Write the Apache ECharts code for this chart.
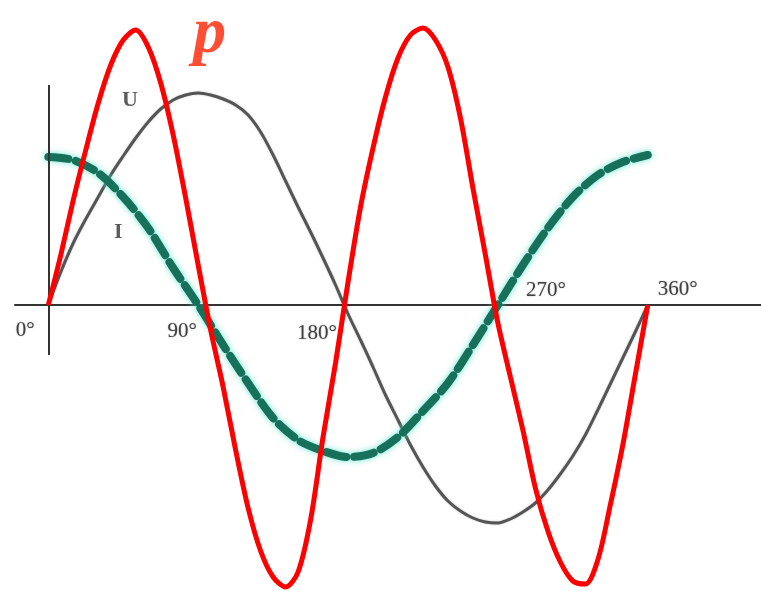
<!DOCTYPE html>
<html>
<head>
<meta charset="utf-8">
<script src="https://cdn.jsdelivr.net/npm/echarts@6/dist/echarts.min.js"></script>
<style>
  html, body { margin: 0; padding: 0; background: #ffffff; }
  #chart { width: 761px; height: 591px; }
</style>
</head>
<body>
<div id="chart"></div>
<script>
// Phase angle samples (degrees) for voltage and power
const angles = [0, 7.5, 15, 22.5, 30, 37.5, 45, 52.5, 60, 67.5, 75, 82.5, 90,
                97.5, 105, 112.5, 120, 127.5, 135, 142.5, 150, 157.5, 165, 172.5, 180,
                187.5, 195, 202.5, 210, 217.5, 225, 232.5, 240, 247.5, 255, 262.5, 270,
                277.5, 285, 292.5, 300, 307.5, 315, 322.5, 330, 337.5, 345, 352.5, 360];
// Voltage U
const voltage = [0, 33, 62, 86, 108, 130, 149, 167, 183, 196, 205, 210, 212,
                 210, 206, 200, 190, 173, 150, 124, 98, 73, 47, 20, -9,
                 -35, -62, -90, -115, -140, -162, -181, -196, -206, -213, -217, -218,
                 -214, -207, -198, -185, -169, -151, -130, -105, -79, -53, -27, 0];
// Instantaneous power p
const power = [0, 50, 105, 155, 202, 240, 265, 275, 258, 222, 170, 107, 40,
               -25, -82, -145, -203, -246, -272, -282, -267, -215, -132, -58, 23,
               98, 157, 208, 247, 270, 277, 265, 238, 187, 117, 50, -18,
               -72, -125, -183, -226, -257, -276, -279, -255, -200, -140, -70, 0];
// Phase angle samples (degrees) for current
const currentAngles = [0, 15, 30, 45, 60, 75, 90, 105, 120, 135, 150, 165, 180,
                       195, 210, 225, 240, 255, 270, 285, 300, 315, 330, 345, 360];
// Current I
const current = [148, 145, 132, 108, 77, 37, 0, -40, -78, -113, -135, -146, -152,
                 -148, -132, -106, -78, -40, 0, 40, 77, 108, 130, 143, 150];
// Axis tick labels
const tickAngles = [0, 90, 180, 270, 360];
const tickLabels = ['0\u00b0', '90\u00b0', '180\u00b0', '270\u00b0', '360\u00b0'];
// Curve names
const curveLabels = ['U', 'I', 'p'];

const pairs = (xs, ys) => xs.map((x, i) => [x, ys[i]]);

const tickOffsets = [[-23, 25], [-16, 26], [-31, 28], [48, -15], [30, -16]];
const serifFont = '"Liberation Serif", "DejaVu Serif", serif';

const chart = echarts.init(document.getElementById('chart'));
chart.setOption({
  animation: false,
  backgroundColor: '#ffffff',
  grid: { left: 15, right: 0, top: 0, bottom: 0 },
  xAxis: {
    type: 'value', min: -20, max: 428,
    axisLine: { show: true, onZero: true, lineStyle: { color: '#333333', width: 2 } },
    axisTick: { show: false }, axisLabel: { show: false }, splitLine: { show: false }
  },
  yAxis: {
    type: 'value', min: -286, max: 305, show: false,
    splitLine: { show: false }
  },
  series: [
    {
      name: 'U', type: 'line', data: pairs(angles, voltage), smooth: 0.3,
      symbol: 'none', z: 3,
      lineStyle: { color: '#555555', width: 3, shadowColor: 'rgba(0,0,0,0.25)', shadowBlur: 2 },
      markLine: {
        silent: true, symbol: 'none', label: { show: false },
        lineStyle: { color: '#333333', width: 2, type: 'solid' },
        data: [[{ coord: [0, 220] }, { coord: [0, -50] }]]
      }
    },
    {
      name: 'I', type: 'line', data: pairs(currentAngles, current), smooth: 0.3,
      symbol: 'none', z: 4,
      lineStyle: {
        color: '#16705a', width: 8, type: [20, 8], cap: 'round',
        shadowColor: 'rgba(80,225,200,0.85)', shadowBlur: 6
      }
    },
    {
      name: 'p', type: 'line', data: pairs(angles, power), smooth: 0.3,
      symbol: 'none', z: 5,
      lineStyle: { color: '#ff0000', width: 5 }
    },
    {
      name: 'ticks', type: 'scatter', symbolSize: 1, z: 6,
      itemStyle: { color: 'rgba(0,0,0,0)' },
      data: tickAngles.map((a, i) => ({
        value: [a, 0],
        label: { offset: tickOffsets[i] }
      })),
      label: {
        show: true, position: 'inside', align: 'center', verticalAlign: 'middle',
        formatter: p => tickLabels[p.dataIndex],
        fontFamily: serifFont, fontSize: 21, color: '#222222',
        textShadowColor: 'rgba(0,0,0,0.45)', textShadowBlur: 1.5
      }
    },
    {
      name: 'names', type: 'scatter', symbolSize: 1, z: 6,
      itemStyle: { color: 'rgba(0,0,0,0)' },
      data: [
        { value: [49, 205], label: { fontSize: 22, color: '#333333', fontWeight: 'bold' } },
        { value: [42, 73], label: { fontSize: 22, color: '#333333', fontWeight: 'bold' } },
        { value: [97, 270], label: { fontSize: 66, color: '#ff2200', fontWeight: 'bold', fontStyle: 'italic' } }
      ],
      label: {
        show: true, position: 'inside', align: 'center', verticalAlign: 'middle',
        formatter: p => curveLabels[p.dataIndex],
        fontFamily: serifFont
      }
    }
  ]
});
</script>
</body>
</html>
